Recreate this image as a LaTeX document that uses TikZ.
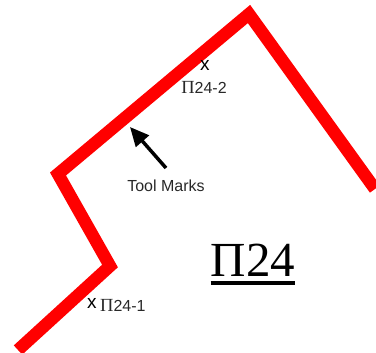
\documentclass[tikz,border=0pt]{standalone}
\usepackage{fontspec}
\setmainfont{Liberation Serif}
\newfontfamily\labelsans{Liberation Sans}
\usetikzlibrary{arrows.meta}
\newcommand{\smallpi}{{\rmfamily\fontsize{18.5}{18}\selectfont Π}}
\tikzset{
  redline/.style={draw={rgb,255:red,255;green,0;blue,0}, line width=12.5pt, line join=miter, line cap=butt},
  smalllabel/.style={inner sep=0pt, font=\labelsans\fontsize{16}{18}\selectfont, text={rgb,255:red,40;green,40;blue,40}},
  xmark/.style={inner sep=0pt, font=\labelsans\fontsize{19}{20}\selectfont, text=black},
  pointer/.style={draw=black, line width=3.5pt, -{Triangle[length=19pt,width=17pt]}},
  biglabel/.style={inner sep=0pt, font=\fontsize{49}{51}\selectfont},
  underbar/.style={draw=black, line width=3.5pt}
}
\begin{document}
\begin{tikzpicture}[x=1pt,y=-1pt]
\useasboundingbox (0,0) rectangle (376,353);
\clip (0,0) rectangle (376,353);
\coordinate (p0) at (18,350);
\coordinate (p1) at (110,266);
\coordinate (p2) at (58,174);
\coordinate (p3) at (249,14);
\coordinate (p4) at (375,189);
\draw[redline] (p0) -- (p1) -- (p2) -- (p3) -- (p4);
% labels
\node[xmark] (x2) at (205,65) {x};
\node[smalllabel] (l2) at (204,87) {\smallpi24-2};
\node[xmark, anchor=west] (x1) at (87,303) {x};
\node[smalllabel, anchor=west] (l1) at (100,305) {\smallpi24-1};
\node[smalllabel] (tm) at (166,186) {Tool Marks};
\coordinate (tail) at (166,168);
\coordinate (tip) at (130,127);
\draw[pointer] (tail) -- (tip);
\node[biglabel, anchor=base] (big) at (253,277) {Π24};
\draw[underbar] ([yshift=-6pt]big.base west) -- ([yshift=-6pt]big.base east);
\end{tikzpicture}
\end{document}
